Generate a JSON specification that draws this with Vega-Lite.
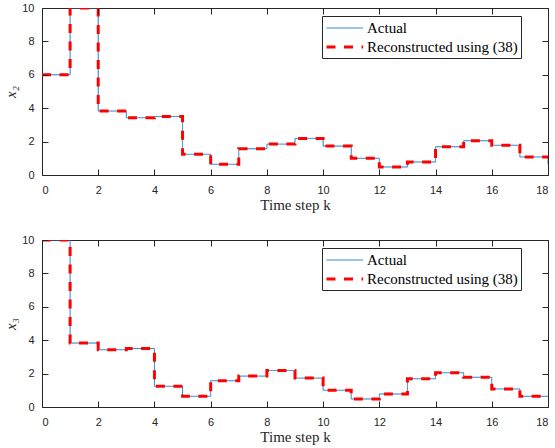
{
  "$schema": "https://vega.github.io/schema/vega-lite/v6.json",
  "padding": {"left": 3, "top": 1, "right": 4, "bottom": 0},
  "background": "white",
  "spacing": 20,
  "config": {
    "view": {"stroke": "#262626", "strokeWidth": 1},
    "axis": {
      "grid": false,
      "domain": false,
      "labelFont": "Liberation Sans",
      "labelFontSize": 11,
      "labelColor": "#262626",
      "titleFont": "Times New Roman, Liberation Serif, serif",
      "titleFontSize": 15,
      "titleFontWeight": "normal",
      "titleColor": "#262626"
    },
    "legend": {
      "orient": "none",
      "legendX": 280,
      "legendY": 8,
      "title": null,
      "labelFont": "Times New Roman, Liberation Serif, serif",
      "labelFontSize": 15,
      "labelColor": "#000000",
      "strokeColor": "#262626",
      "fillColor": "white",
      "padding": 3,
      "symbolType": "M-1,0H3.3",
      "symbolSize": 289,
      "rowPadding": 1,
      "labelOffset": 22
    }
  },
  "datasets": {
    "d": [
      {"panel": "x2", "series": "Actual", "k": 0, "value": 6},
      {"panel": "x2", "series": "Actual", "k": 1, "value": 10},
      {"panel": "x2", "series": "Actual", "k": 2, "value": 3.83},
      {"panel": "x2", "series": "Actual", "k": 3, "value": 3.43},
      {"panel": "x2", "series": "Actual", "k": 4, "value": 3.5},
      {"panel": "x2", "series": "Actual", "k": 5, "value": 1.24},
      {"panel": "x2", "series": "Actual", "k": 6, "value": 0.64},
      {"panel": "x2", "series": "Actual", "k": 7, "value": 1.57},
      {"panel": "x2", "series": "Actual", "k": 8, "value": 1.85},
      {"panel": "x2", "series": "Actual", "k": 9, "value": 2.19},
      {"panel": "x2", "series": "Actual", "k": 10, "value": 1.73},
      {"panel": "x2", "series": "Actual", "k": 11, "value": 1.0},
      {"panel": "x2", "series": "Actual", "k": 12, "value": 0.48},
      {"panel": "x2", "series": "Actual", "k": 13, "value": 0.78},
      {"panel": "x2", "series": "Actual", "k": 14, "value": 1.69},
      {"panel": "x2", "series": "Actual", "k": 15, "value": 2.05},
      {"panel": "x2", "series": "Actual", "k": 16, "value": 1.78},
      {"panel": "x2", "series": "Actual", "k": 17, "value": 1.08},
      {"panel": "x2", "series": "Actual", "k": 18, "value": 0.64},
      {"panel": "x2", "series": "Reconstructed using (38)", "k": 0, "value": 6},
      {"panel": "x2", "series": "Reconstructed using (38)", "k": 1, "value": 10},
      {"panel": "x2", "series": "Reconstructed using (38)", "k": 2, "value": 3.83},
      {"panel": "x2", "series": "Reconstructed using (38)", "k": 3, "value": 3.43},
      {"panel": "x2", "series": "Reconstructed using (38)", "k": 4, "value": 3.5},
      {"panel": "x2", "series": "Reconstructed using (38)", "k": 5, "value": 1.24},
      {"panel": "x2", "series": "Reconstructed using (38)", "k": 6, "value": 0.64},
      {"panel": "x2", "series": "Reconstructed using (38)", "k": 7, "value": 1.57},
      {"panel": "x2", "series": "Reconstructed using (38)", "k": 8, "value": 1.85},
      {"panel": "x2", "series": "Reconstructed using (38)", "k": 9, "value": 2.19},
      {"panel": "x2", "series": "Reconstructed using (38)", "k": 10, "value": 1.73},
      {"panel": "x2", "series": "Reconstructed using (38)", "k": 11, "value": 1.0},
      {"panel": "x2", "series": "Reconstructed using (38)", "k": 12, "value": 0.48},
      {"panel": "x2", "series": "Reconstructed using (38)", "k": 13, "value": 0.78},
      {"panel": "x2", "series": "Reconstructed using (38)", "k": 14, "value": 1.69},
      {"panel": "x2", "series": "Reconstructed using (38)", "k": 15, "value": 2.05},
      {"panel": "x2", "series": "Reconstructed using (38)", "k": 16, "value": 1.78},
      {"panel": "x2", "series": "Reconstructed using (38)", "k": 17, "value": 1.08},
      {"panel": "x2", "series": "Reconstructed using (38)", "k": 18, "value": 1.08},
      {"panel": "x3", "series": "Actual", "k": 0, "value": 10},
      {"panel": "x3", "series": "Actual", "k": 1, "value": 3.83},
      {"panel": "x3", "series": "Actual", "k": 2, "value": 3.43},
      {"panel": "x3", "series": "Actual", "k": 3, "value": 3.5},
      {"panel": "x3", "series": "Actual", "k": 4, "value": 1.24},
      {"panel": "x3", "series": "Actual", "k": 5, "value": 0.64},
      {"panel": "x3", "series": "Actual", "k": 6, "value": 1.57},
      {"panel": "x3", "series": "Actual", "k": 7, "value": 1.85},
      {"panel": "x3", "series": "Actual", "k": 8, "value": 2.19},
      {"panel": "x3", "series": "Actual", "k": 9, "value": 1.73},
      {"panel": "x3", "series": "Actual", "k": 10, "value": 1.0},
      {"panel": "x3", "series": "Actual", "k": 11, "value": 0.48},
      {"panel": "x3", "series": "Actual", "k": 12, "value": 0.78},
      {"panel": "x3", "series": "Actual", "k": 13, "value": 1.69},
      {"panel": "x3", "series": "Actual", "k": 14, "value": 2.05},
      {"panel": "x3", "series": "Actual", "k": 15, "value": 1.78},
      {"panel": "x3", "series": "Actual", "k": 16, "value": 1.08},
      {"panel": "x3", "series": "Actual", "k": 17, "value": 0.64},
      {"panel": "x3", "series": "Actual", "k": 18, "value": 0.64},
      {"panel": "x3", "series": "Reconstructed using (38)", "k": 0, "value": 10},
      {"panel": "x3", "series": "Reconstructed using (38)", "k": 1, "value": 3.83},
      {"panel": "x3", "series": "Reconstructed using (38)", "k": 2, "value": 3.43},
      {"panel": "x3", "series": "Reconstructed using (38)", "k": 3, "value": 3.5},
      {"panel": "x3", "series": "Reconstructed using (38)", "k": 4, "value": 1.24},
      {"panel": "x3", "series": "Reconstructed using (38)", "k": 5, "value": 0.64},
      {"panel": "x3", "series": "Reconstructed using (38)", "k": 6, "value": 1.57},
      {"panel": "x3", "series": "Reconstructed using (38)", "k": 7, "value": 1.85},
      {"panel": "x3", "series": "Reconstructed using (38)", "k": 8, "value": 2.19},
      {"panel": "x3", "series": "Reconstructed using (38)", "k": 9, "value": 1.73},
      {"panel": "x3", "series": "Reconstructed using (38)", "k": 10, "value": 1.0},
      {"panel": "x3", "series": "Reconstructed using (38)", "k": 11, "value": 0.48},
      {"panel": "x3", "series": "Reconstructed using (38)", "k": 12, "value": 0.78},
      {"panel": "x3", "series": "Reconstructed using (38)", "k": 13, "value": 1.69},
      {"panel": "x3", "series": "Reconstructed using (38)", "k": 14, "value": 2.05},
      {"panel": "x3", "series": "Reconstructed using (38)", "k": 15, "value": 1.78},
      {"panel": "x3", "series": "Reconstructed using (38)", "k": 16, "value": 1.08},
      {"panel": "x3", "series": "Reconstructed using (38)", "k": 17, "value": 0.64},
      {"panel": "x3", "series": "Reconstructed using (38)", "k": 18, "value": 0.64}
    ]
  },
  "data": {"name": "d"},
  "resolve": {"legend": {"color": "independent", "strokeDash": "independent", "strokeWidth": "independent"}},
  "vconcat": [
    {
      "width": 506,
      "height": 167,
      "transform": [{"filter": "datum.panel == 'x2'"}],
      "resolve": {"axis": {"x": "independent", "y": "independent"}},
      "layer": [
        {
          "mark": {"type": "line", "interpolate": "step-after", "clip": true},
          "encoding": {
            "x": {"field": "k", "type": "quantitative", "scale": {"domain": [0, 18], "nice": false}, "axis": {"orient": "bottom", "values": [0,2,4,6,8,10,12,14,16,18], "title": "Time step k", "ticks": true, "tickSize": 6, "offset": -6, "tickColor": "#262626", "tickWidth": 1, "zindex": 2, "labelPadding": 9, "titlePadding": 2}},
            "y": {"field": "value", "type": "quantitative", "scale": {"domain": [0, 10], "nice": false}, "axis": {"orient": "left", "values": [0,2,4,6,8,10], "title": "x₂", "titleFontStyle": "italic", "ticks": true, "tickSize": 6, "offset": -6, "tickColor": "#262626", "tickWidth": 1, "zindex": 2, "labelPadding": 8, "titlePadding": 3}},
            "color": {"field": "series", "type": "nominal", "scale": {"domain": ["Actual", "Reconstructed using (38)"], "range": ["#1A7CC6", "#FF0000"]}},
            "strokeDash": {"field": "series", "type": "nominal", "scale": {"domain": ["Actual", "Reconstructed using (38)"], "range": [[1, 0], [9, 8.5]]}},
            "strokeWidth": {"field": "series", "type": "nominal", "scale": {"domain": ["Actual", "Reconstructed using (38)"], "range": [1, 3]}}
          }
        },
        {
          "mark": {"type": "line", "opacity": 0},
          "encoding": {
            "x": {"field": "k", "type": "quantitative", "axis": {"orient": "top", "values": [0,2,4,6,8,10,12,14,16,18], "labels": false, "title": null, "ticks": true, "tickSize": 6, "offset": -6, "tickColor": "#262626", "tickWidth": 1, "zindex": 2}},
            "y": {"field": "value", "type": "quantitative", "axis": {"orient": "right", "values": [0,2,4,6,8,10], "labels": false, "title": null, "ticks": true, "tickSize": 6, "offset": -6, "tickColor": "#262626", "tickWidth": 1, "zindex": 2}}
          }
        }
      ]
    },
    {
      "width": 506,
      "height": 167,
      "transform": [{"filter": "datum.panel == 'x3'"}],
      "resolve": {"axis": {"x": "independent", "y": "independent"}},
      "layer": [
        {
          "mark": {"type": "line", "interpolate": "step-after", "clip": true},
          "encoding": {
            "x": {"field": "k", "type": "quantitative", "scale": {"domain": [0, 18], "nice": false}, "axis": {"orient": "bottom", "values": [0,2,4,6,8,10,12,14,16,18], "title": "Time step k", "ticks": true, "tickSize": 6, "offset": -6, "tickColor": "#262626", "tickWidth": 1, "zindex": 2, "labelPadding": 9, "titlePadding": 2}},
            "y": {"field": "value", "type": "quantitative", "scale": {"domain": [0, 10], "nice": false}, "axis": {"orient": "left", "values": [0,2,4,6,8,10], "title": "x₃", "titleFontStyle": "italic", "ticks": true, "tickSize": 6, "offset": -6, "tickColor": "#262626", "tickWidth": 1, "zindex": 2, "labelPadding": 8, "titlePadding": 3}},
            "color": {"field": "series", "type": "nominal", "scale": {"domain": ["Actual", "Reconstructed using (38)"], "range": ["#1A7CC6", "#FF0000"]}},
            "strokeDash": {"field": "series", "type": "nominal", "scale": {"domain": ["Actual", "Reconstructed using (38)"], "range": [[1, 0], [9, 8.5]]}},
            "strokeWidth": {"field": "series", "type": "nominal", "scale": {"domain": ["Actual", "Reconstructed using (38)"], "range": [1, 3]}}
          }
        },
        {
          "mark": {"type": "line", "opacity": 0},
          "encoding": {
            "x": {"field": "k", "type": "quantitative", "axis": {"orient": "top", "values": [0,2,4,6,8,10,12,14,16,18], "labels": false, "title": null, "ticks": true, "tickSize": 6, "offset": -6, "tickColor": "#262626", "tickWidth": 1, "zindex": 2}},
            "y": {"field": "value", "type": "quantitative", "axis": {"orient": "right", "values": [0,2,4,6,8,10], "labels": false, "title": null, "ticks": true, "tickSize": 6, "offset": -6, "tickColor": "#262626", "tickWidth": 1, "zindex": 2}}
          }
        }
      ]
    }
  ]
}
